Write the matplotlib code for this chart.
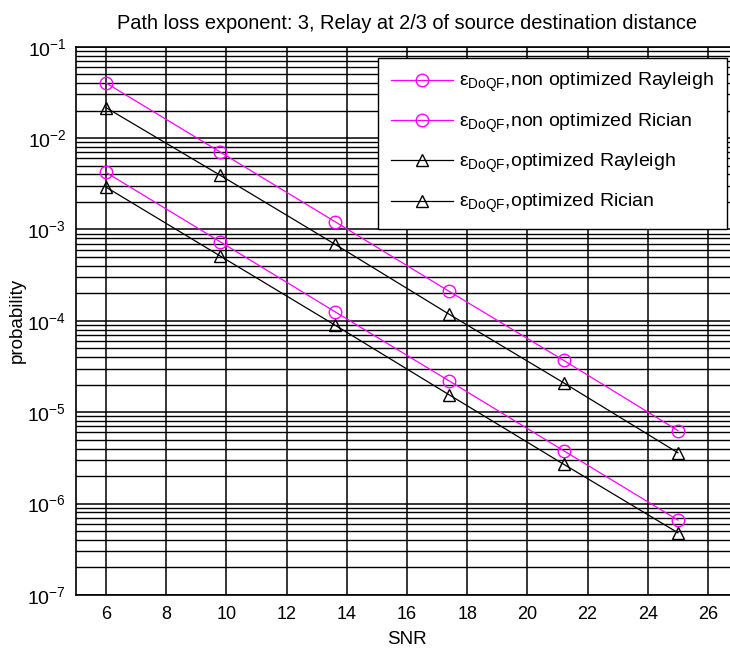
import matplotlib.pyplot as plt
import numpy as np
from matplotlib.ticker import FixedLocator, NullFormatter

plt.rcParams['font.family'] = ['Liberation Sans', 'DejaVu Sans']
plt.rcParams['mathtext.default'] = 'regular'

snr = [6, 9.8, 13.6, 17.4, 21.2, 25]
nonopt_rayleigh = [4.0e-2, 7.0e-3, 1.22e-3, 2.1e-4, 3.7e-5, 6.3e-6]
nonopt_rician = [4.2e-3, 7.3e-4, 1.26e-4, 2.2e-5, 3.8e-6, 6.6e-7]
opt_rayleigh = [2.15e-2, 3.9e-3, 6.9e-4, 1.18e-4, 2.1e-5, 3.6e-6]
opt_rician = [2.9e-3, 5.1e-4, 9.0e-5, 1.55e-5, 2.7e-6, 4.8e-7]

labels = [r'ε$_{DoQF}$,non optimized Rayleigh',
          r'ε$_{DoQF}$,non optimized Rician',
          r'ε$_{DoQF}$,optimized Rayleigh',
          r'ε$_{DoQF}$,optimized Rician']

decades = [-7, -6, -5, -4, -3, -2, -1]

fig = plt.figure(figsize=(7.3, 6.48), dpi=100)
ax = fig.add_axes([0.1041, 0.0818, 0.907, 0.8462])

mag = '#ff00ff'
ax.plot(snr, nonopt_rayleigh, color=mag, lw=0.9, marker='o', ms=9, mfc='none', mec=mag, label=labels[0])
ax.plot(snr, nonopt_rician, color=mag, lw=0.9, marker='o', ms=9, mfc='none', mec=mag, label=labels[1])
ax.plot(snr, opt_rayleigh, color='black', lw=0.9, marker='^', ms=9, mfc='none', mec='black', label=labels[2])
ax.plot(snr, opt_rician, color='black', lw=0.9, marker='^', ms=9, mfc='none', mec='black', label=labels[3])

ax.set_yscale('log')
ax.set_xlim(5, 27)
ax.set_ylim(1e-7, 1e-1)
ax.set_xticks(np.arange(6, 27, 2))
major = [10.0 ** d for d in decades]
minor = [m * 10.0 ** d for d in decades[:-1] for m in range(2, 10)]
ax.yaxis.set_major_locator(FixedLocator(major))
ax.set_yticklabels([r'$10^{%d}$' % d for d in decades])
ax.yaxis.set_minor_locator(FixedLocator(minor))
ax.yaxis.set_minor_formatter(NullFormatter())
ax.grid(True, which='major', color='black', lw=1.1, ls='-')
ax.grid(True, which='minor', axis='y', color='black', lw=1.0, ls='-')
ax.set_axisbelow(True)
ax.tick_params(which='both', direction='in', length=0, labelsize=13, pad=8)
ax.tick_params(axis='y', labelsize=14, pad=7)
for s in ax.spines.values():
    s.set_linewidth(1.2)

ax.set_xlabel('SNR', fontsize=13.5, labelpad=6)
ax.set_ylabel('probability', fontsize=13.5, labelpad=1)
ax.set_title('Path loss exponent: 3, Relay at 2/3 of source destination distance', fontsize=14.4, pad=13)

leg = ax.legend(loc='upper left', bbox_to_anchor=(378 / 730, 1 - 58 / 648), bbox_transform=fig.transFigure,
                borderaxespad=0, fontsize=14, handlelength=3.2, handletextpad=0.3, labelspacing=0.88,
                fancybox=False, edgecolor='black', framealpha=1, borderpad=0.68)
leg.get_frame().set_linewidth(1.0)

fig.savefig('out.png', dpi=100)
